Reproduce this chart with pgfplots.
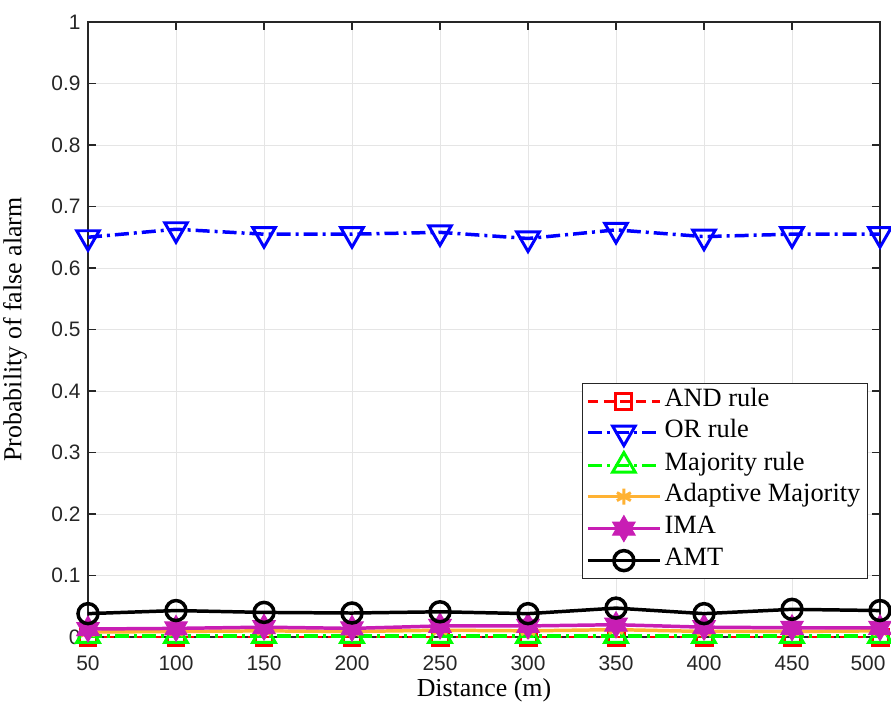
\documentclass[border=0pt]{standalone}
\usepackage{fontspec}
\setmainfont{Liberation Serif}
\newfontfamily\arialfont{Liberation Sans}
\usepackage{pgfplots}
\pgfplotsset{compat=1.18}
\pgfdeclareplotmark{hexagram}{%
  \pgfpathmoveto{\pgfqpointpolar{90}{\pgfplotmarksize}}%
  \pgfpathlineto{\pgfqpointpolar{210}{\pgfplotmarksize}}%
  \pgfpathlineto{\pgfqpointpolar{330}{\pgfplotmarksize}}%
  \pgfpathclose
  \pgfpathmoveto{\pgfqpointpolar{270}{\pgfplotmarksize}}%
  \pgfpathlineto{\pgfqpointpolar{30}{\pgfplotmarksize}}%
  \pgfpathlineto{\pgfqpointpolar{150}{\pgfplotmarksize}}%
  \pgfpathclose
  \pgfusepathqfillstroke}
\definecolor{cand}{RGB}{255,0,0}
\definecolor{cor}{RGB}{0,0,255}
\definecolor{cmaj}{RGB}{0,255,0}
\definecolor{cada}{RGB}{255,178,51}
\definecolor{cima}{RGB}{200,30,180}
\begin{document}
\begin{tikzpicture}
\begin{axis}[
  scale only axis,
  width=792bp, height=615bp,
  xmin=50, xmax=500, ymin=0, ymax=1,
  xtick={50,100,...,500},
  xticklabels={50,100,150,200,250,300,350,400,450,\hspace*{-24bp}500},
  ytick={0,0.1,...,1},
  yticklabels={0,0.1,0.2,0.3,0.4,0.5,0.6,0.7,0.8,0.9,1},
  /pgf/number format/assume math mode=true,
  tick label style={font=\arialfont\fontsize{21}{24}\selectfont, text=black!85},
  xticklabel style={yshift=-15bp},
  yticklabel style={xshift=-4bp},
  xlabel={Distance (m)},
  ylabel={Probability of false alarm},
  every axis y label/.style={at={(rel axis cs:0,0.5)}, rotate=90, anchor=center, yshift=73bp, font=\fontsize{26}{30}\selectfont},
  every axis x label/.style={at={(rel axis cs:0.5,0)}, anchor=center, yshift=-53bp, font=\fontsize{26}{30}\selectfont},
  grid=major,
  major grid style={gray!20, line width=0.6pt},
  tick align=inside,
  major tick length=8bp,
  tick style={black!85, line width=1.2pt},
  axis line style={black!85, line width=1.2pt},
  clip mode=individual,
  legend cell align=left,
  legend style={at={(rel axis cs:0.9848,0.413)}, anchor=north east,
    font=\fontsize{26.5}{30}\selectfont, draw=black!85, line width=1.2pt,
    row sep=7bp, inner xsep=4bp, inner ysep=6bp,
    nodes={inner xsep=3pt, inner ysep=0pt, text height=17bp, text depth=7bp}},
  legend image code/.code={%
    \draw[mark repeat=2,mark phase=2] plot coordinates {(0bp,0bp) (36bp,0bp) (72bp,0bp)};},
]
\addplot[cand, line width=3pt, dash pattern=on 10bp off 6bp, mark=square, mark size=8bp, mark options={solid, line width=3pt}]
  coordinates {(50,0) (100,0) (150,0) (200,0) (250,0) (300,0) (350,0) (400,0) (450,0) (500,0)};
\addlegendentry{AND rule}
\addplot[cor, line width=3.5pt, dash pattern=on 14bp off 5bp on 3bp off 5bp, mark=triangle, mark size=13bp, mark options={solid, rotate=180, line width=3pt}]
  coordinates {(50,0.650) (100,0.663) (150,0.655) (200,0.655) (250,0.658) (300,0.648) (350,0.662) (400,0.651) (450,0.655) (500,0.655)};
\addlegendentry{OR rule}
\addplot[cmaj, line width=3.5pt, dash pattern=on 14bp off 5bp on 3bp off 5bp, mark=triangle, mark size=13bp, mark options={solid, line width=3pt}]
  coordinates {(50,0.002) (100,0.002) (150,0.002) (200,0.002) (250,0.002) (300,0.002) (350,0.002) (400,0.002) (450,0.002) (500,0.002)};
\addlegendentry{Majority rule}
\addplot[cada, line width=3.5pt, mark=asterisk, mark size=8bp, mark options={solid, line width=3pt}]
  coordinates {(50,0.008) (100,0.009) (150,0.010) (200,0.009) (250,0.011) (300,0.010) (350,0.012) (400,0.009) (450,0.009) (500,0.010)};
\addlegendentry{Adaptive Majority}
\addplot[cima, line width=3.5pt, mark=hexagram, mark size=13bp, mark options={solid, line width=1pt, fill=cima}]
  coordinates {(50,0.013) (100,0.014) (150,0.016) (200,0.014) (250,0.018) (300,0.018) (350,0.020) (400,0.016) (450,0.015) (500,0.015)};
\addlegendentry{IMA}
\addplot[black, line width=3.5pt, mark=o, mark size=10bp, mark options={solid, line width=3.5pt}]
  coordinates {(50,0.038) (100,0.043) (150,0.040) (200,0.039) (250,0.041) (300,0.038) (350,0.047) (400,0.038) (450,0.045) (500,0.043)};
\addlegendentry{AMT}
\coordinate (bl) at (rel axis cs:0,0);
\coordinate (tr) at (rel axis cs:1,1);
\end{axis}
\pgfresetboundingbox
\path[use as bounding box] ([shift={(-88bp,-69bp)}]bl) rectangle ([shift={(11bp,22bp)}]tr);
\end{tikzpicture}
\end{document}
